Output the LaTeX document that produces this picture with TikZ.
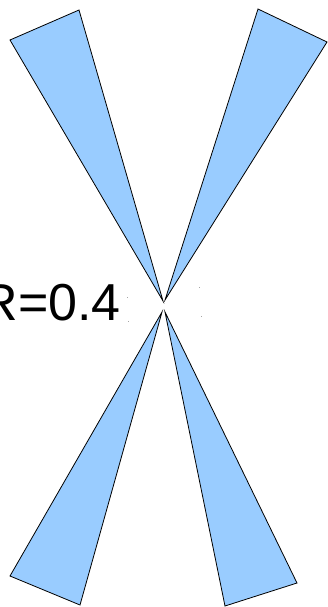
\documentclass[tikz,border=0pt]{standalone}
\usepackage{fontspec}
\setmainfont{Liberation Sans}
\usepackage{tikz}

\definecolor{wedgeblue}{HTML}{99CCFF}
\tikzset{wedge/.style={draw=black,line width=0.8pt,fill=wedgeblue,line join=miter}}

\begin{document}
\begin{tikzpicture}[x=1pt,y=-1pt]
  \useasboundingbox (0,0) rectangle (328,607);
  \draw[wedge] (10,40) -- (79,10) -- (163,301) -- cycle;
  \draw[wedge] (258,9) -- (327,42) -- (165,300) -- cycle;
  \draw[wedge] (10,576) -- (80,605) -- (162,312) -- cycle;
  \draw[wedge] (225,606) -- (297,583) -- (165,312) -- cycle;
  \fill[gray!70] (126.5,296.5) rectangle (128,298);
  \fill[gray!70] (127.5,320.5) rectangle (129,322);
  \fill[gray!70] (198.5,286.5) rectangle (200,288);
  \fill[gray!70] (200.5,315.5) rectangle (202,317);
  \node[anchor=base east,inner sep=0pt,font=\fontsize{52}{60}\selectfont] (rlabel) at (121,320) {R=0.4};
\end{tikzpicture}
\end{document}
